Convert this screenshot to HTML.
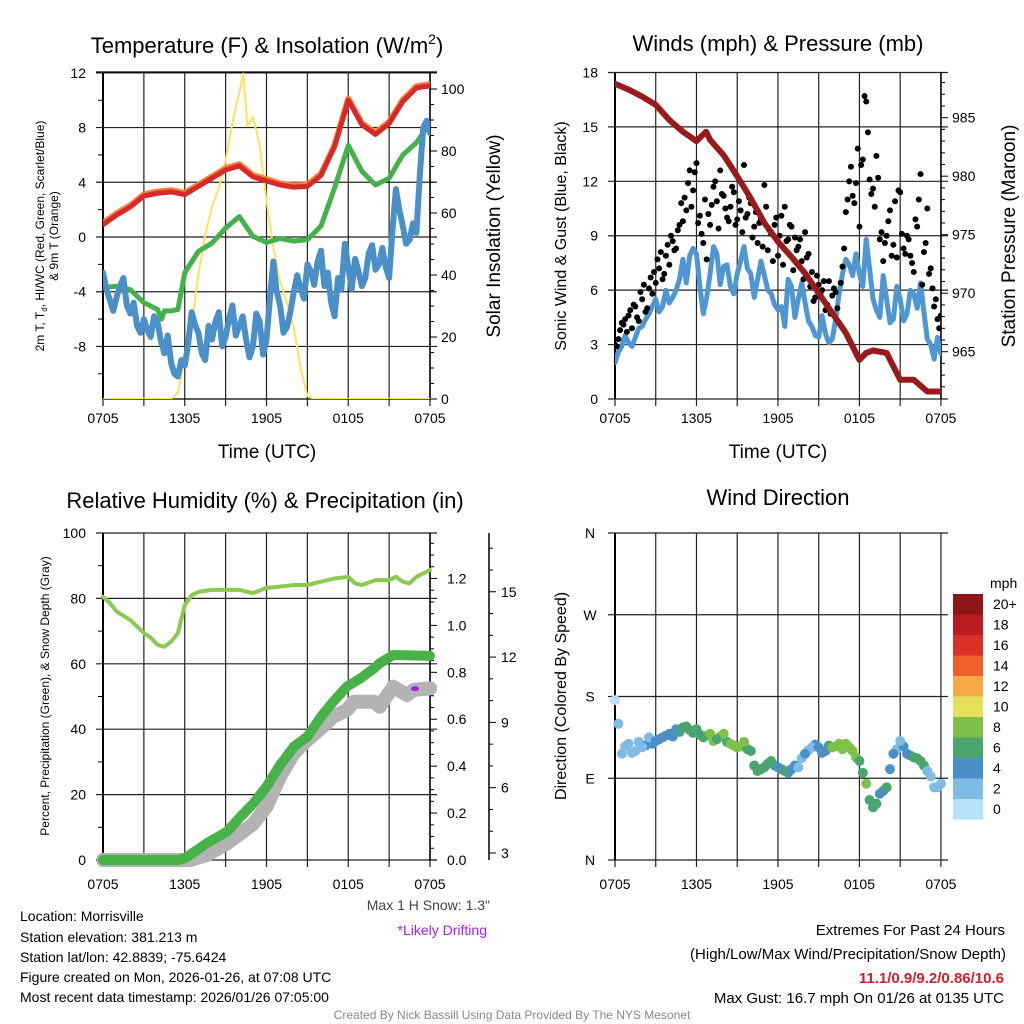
<!DOCTYPE html>
<html><head><meta charset="utf-8">
<style>
html,body{margin:0;padding:0;background:#fff;}
svg{display:block;font-family:"Liberation Sans",sans-serif;}
</style></head>
<body>
<svg id="fig" width="1024" height="1024" viewBox="0 0 1024 1024" xmlns="http://www.w3.org/2000/svg">
<defs>
<clipPath id="c1"><rect x="103" y="72" width="327" height="327"/></clipPath>
<clipPath id="c2"><rect x="615" y="72" width="326" height="327"/></clipPath>
<clipPath id="c3"><rect x="97" y="533" width="345" height="335"/></clipPath>
<clipPath id="c4"><rect x="606" y="525" width="345" height="345"/></clipPath>
</defs>
<text x="267" y="53" font-size="22" text-anchor="middle">Temperature (F) &amp; Insolation (W/m<tspan font-size="14" dy="-9">2</tspan><tspan dy="9">)</tspan></text>
<text x="778" y="51" font-size="22" text-anchor="middle">Winds (mph) &amp; Pressure (mb)</text>
<text x="265" y="508" font-size="22" text-anchor="middle">Relative Humidity (%) &amp; Precipitation (in)</text>
<text x="778" y="505" font-size="22" text-anchor="middle">Wind Direction</text>

<text x="267" y="458" font-size="19" text-anchor="middle">Time (UTC)</text>
<text x="778" y="458" font-size="19" text-anchor="middle">Time (UTC)</text>

<text transform="translate(44,236) rotate(-90)" font-size="12" text-anchor="middle">2m T, T<tspan font-size="8" dy="3">d</tspan><tspan dy="-3">, HI/WC (Red, Green, Scarlet/Blue)</tspan></text>
<text transform="translate(58,236) rotate(-90)" font-size="12" text-anchor="middle">&amp; 9m T (Orange)</text>
<text transform="translate(500,236) rotate(-90)" font-size="19" text-anchor="middle">Solar Insolation (Yellow)</text>
<text transform="translate(566,236) rotate(-90)" font-size="16" text-anchor="middle">Sonic Wind &amp; Gust (Blue, Black)</text>
<text transform="translate(1015,236) rotate(-90)" font-size="19" text-anchor="middle">Station Pressure (Maroon)</text>
<text transform="translate(49,696) rotate(-90)" font-size="12" text-anchor="middle">Percent, Precipitation (Green), &amp; Snow Depth (Gray)</text>
<text transform="translate(566,696) rotate(-90)" font-size="16" text-anchor="middle">Direction (Colored By Speed)</text>

<g id="g1"></g>
<g id="g2"></g>
<g id="g3"></g>
<g id="g4"></g>

<text x="490" y="910" font-size="14" fill="#444" text-anchor="end">Max 1 H Snow: 1.3"</text>
<text x="487" y="935" font-size="14" fill="#a020f0" text-anchor="end">*Likely Drifting</text>
<g font-size="14">
<text x="20" y="921">Location: Morrisville</text>
<text x="20" y="942">Station elevation: 381.213 m</text>
<text x="20" y="962">Station lat/lon: 42.8839; -75.6424</text>
<text x="20" y="982">Figure created on Mon, 2026-01-26, at 07:08 UTC</text>
<text x="20" y="1002">Most recent data timestamp: 2026/01/26 07:05:00</text>
</g>
<g font-size="15" text-anchor="end">
<text x="1005" y="935">Extremes For Past 24 Hours</text>
<text x="1006" y="959">(High/Low/Max Wind/Precipitation/Snow Depth)</text>
<text x="1004" y="983" fill="#d0202a" font-weight="bold">11.1/0.9/9.2/0.86/10.6</text>
<text x="1004" y="1003">Max Gust: 16.7 mph On 01/26 at 0135 UTC</text>
</g>
<text x="512" y="1019" font-size="12" fill="#888" text-anchor="middle">Created By Nick Bassill Using Data Provided By The NYS Mesonet</text>
</svg>
<script>
// ---------- data ----------
const xLabels = ["0705","1305","1905","0105","0705"];
const tempTicks = [12,8,4,0,-4,-8];
const solarTicks = [0,20,40,60,80,100];
const redT = [0.9,1.6,2.2,3.0,3.2,3.3,3.1,3.7,4.3,4.9,5.2,4.4,4.1,3.8,3.65,3.7,4.5,6.6,10.0,8.2,7.5,8.3,9.9,10.9,11.05];
const greenTimes = [0,1,2,3,4,4.3,4.5,5,5.5,6,7,8,9,10,11,12,13,14,15,16,17,18,19,20,21,22,23,24];
const greenTd = [-3.7,-3.6,-3.85,-4.8,-5.3,-6.0,-5.4,-5.4,-5.3,-2.6,-1.05,-0.45,0.65,1.5,0.05,-0.4,-0.1,-0.3,-0.2,0.8,3.6,6.7,4.8,3.8,4.3,6.0,6.9,8.3];
const blueWC = [-2.6,-4.6,-4.4,-3.0,-5.6,-6.5,-6.0,-7.3,-6.2,-8.5,-9.2,-10.2,-9.4,-5.5,-7.0,-9.0,-7.5,-5.5,-7.3,-5.0,-6.5,-7.5,-8.0,-6.2,-7.5,-1.8,-5.0,-6.6,-4.0,-3.8,-2.0,-3.5,-1.0,-2.6,-5.8,-3.8,-2.2,-1.6,-3.6,-1.2,-2.4,-0.8,-3.0,3.5,0.8,-0.2,0.3,8.0,7.6];
const blueWCq = [-3.8,-5.4,-3.6,-5.0,-4.8,-7.0,-6.8,-5.8,-7.6,-7.2,-10.0,-9.0,-7.8,-6.4,-8.5,-6.5,-6.2,-8.0,-6.0,-7.2,-5.8,-8.8,-5.6,-8.6,-4.5,-4.0,-7.0,-5.5,-2.8,-4.5,-2.5,-1.8,-3.6,-4.8,-3.0,-0.5,-3.8,-2.5,-3.0,-0.6,-2.0,-2.2,0.5,2.0,-0.5,1.0,4.5,8.5];
const solarTimes = [0,5,5.5,6,6.5,7,7.5,8,8.5,9,9.5,10,10.3,10.6,11,11.5,12,12.5,13,13.5,14,14.5,15,15.5,24];
const solarVals = [0,0,2,14,24,40,53,62,68,77,89,99,105,88,91,82,64,49,38,31,23,10,1,0,0];

const windTicks = [0,3,6,9,12,15,18];
const presTicks = [965,970,975,980,985];
const sonicWind = [2.0,2.9,3.1,3.4,4.0,4.7,5.5,5.1,5.3,6.0,7.7,7.9,8.0,4.7,6.9,8.0,7.3,6.2,6.9,8.4,6.9,6.6,6.8,5.8,4.9,4.0,6.2,5.5,5.3,4.0,3.4,3.6,3.3,5.8,7.7,6.8,6.9,8.8,5.5,4.5,5.5,4.4,5.5,4.7,5.8,6.4,3.3,2.2,2.5];
const sonicWindq = [2.6,3.5,2.9,3.9,4.4,5.1,4.8,6.0,5.6,6.6,6.4,8.3,6.2,5.6,8.4,6.3,7.4,5.8,7.6,7.2,5.6,7.6,6.0,5.2,5.1,6.6,4.5,6.4,4.3,3.5,4.6,3.1,4.4,6.9,7.4,8.0,6.2,7.2,4.9,6.8,4.2,6.2,4.3,6.0,5.0,4.8,3.0,3.4];
const gustA = [3.0,3.3,4.2,4.4,4.6,3.9,5.1,4.3,5.5,4.8,6.1,5.8,6.4,7.2,6.6,7.9,7.4,8.7,8.3,9.6,9.8,10.4,12.6,11.5,13.0,10.1,8.6,7.7,9.6,11.7,10.9,12.6,11.2,10.0,10.6,11.4,9.9,10.4,12.9,10.2,10.8,9.5,8.6,9.9,11.8,8.2,9.1,9.6,7.9,10.1,10.6,8.8,9.5,8.9,8.4,7.6,9.2,8.0,7.0,5.6,6.3,6.0,4.9,6.5,5.7,5.9,4.2,7.3,10.3,12.0,11.2,11.9,9.5,13.2,16.4,12.1,11.6,13.4,8.8,7.6,9.0,10.4,8.5,7.8,11.4,8.3,9.0,7.9,7.0,9.5,12.4,8.1,10.5,7.2,5.1,4.4,4.6];
const gustB = [2.9,3.8,4.1,3.7,4.9,5.2,4.5,5.9,6.3,5.0,6.7,7.0,7.7,8.1,6.9,8.5,9.0,8.2,9.3,10.8,11.1,11.9,10.6,12.5,9.7,9.1,11.0,10.2,10.7,12.0,9.4,11.3,10.5,9.8,11.7,9.6,10.9,9.2,10.0,11.1,8.9,10.3,9.7,8.4,10.6,9.3,7.6,10.0,9.0,7.4,8.7,9.6,7.1,8.2,8.8,6.6,7.8,6.2,5.4,6.8,5.8,6.5,5.2,4.7,6.1,5.0,6.4,8.3,11.0,12.8,10.8,13.8,12.9,16.7,14.7,11.3,10.6,12.2,9.2,8.6,9.8,7.9,10.9,11.5,9.1,8.0,8.8,7.5,9.9,11.0,6.3,8.6,6.9,6.1,5.5,3.9];
const presTimes = [0,1,2,3,4,5,6,6.7,7,8,9,10,11,12,13,14,15,16,17,18,18.5,19,20,21,22,23,24];
const presVals = [987.9,987.4,986.8,986.1,984.8,983.8,983.0,983.8,983.1,981.8,980.0,978.1,976.0,974.4,973.1,971.7,970.0,968.3,966.6,964.3,964.9,965.1,964.9,962.6,962.6,961.6,961.6];

const rhTicks = [0,20,40,60,80,100];
const precipTicks = ["0.0","0.2","0.4","0.6","0.8","1.0","1.2"];
const snowTicks = [3,6,9,12,15];
const rhTimes = [0,0.5,1,2,3,3.5,4,4.5,5,5.5,6,6.5,7,8,9,10,11,12,13,14,15,16,17,18,18.5,19,20,21,21.5,22,22.5,23,24];
const rhVals = [80.5,78.6,76,73.4,69.4,68,65.8,65.2,66.8,69.4,78,81,82,82.6,82.6,82.6,81.6,83.2,83.6,84.1,84.1,85.1,86.1,86.6,84.6,84.1,85.6,85.6,86.6,85.1,84.6,86.6,88.7];
const precipTimes = [0,5.5,6.0,7.6,9.1,10.1,11.05,12,13,14,15,16,16.9,17.9,18.9,19.9,20.3,21.3,24];
const precipVals = [0,0,0.007,0.071,0.121,0.185,0.242,0.313,0.405,0.483,0.526,0.611,0.675,0.739,0.774,0.817,0.838,0.874,0.87];
const snowTimes = [0,6.4,7.6,9.1,10.1,11.05,12,13,14,15,16,16.9,17.9,18.4,19.9,20.3,21.3,22.3,22.8,24];
const snowVals = [2.68,2.68,2.91,3.44,3.90,4.36,5.13,6.51,7.58,8.19,8.73,9.26,9.57,9.95,9.95,9.72,10.64,10.26,10.49,10.56];
const driftTime = [22.9];
const driftSnow = [10.55];

const dirLabels = ["N","W","S","E","N"];
const dirTicks = [360,270,180,90,0];
const windDir = [176,117,128,120,124,135,131,135,139,144,146,143,144,135,139,133,139,128,124,130,120,98,102,109,102,98,100,102,117,124,124,120,124,128,128,120,109,84,58,73,80,117,131,117,113,109,98,80,84];
const windSpd = [1.5,3,3,2.5,3,3.5,4.5,5,5,4.5,6,6.5,6,7,8.5,7,8.5,8,9,8.5,7,6.5,7.5,6.5,5.5,6,4.5,3.5,4,3,4.5,5,8.5,9,8.5,8.5,7,8.5,7,5,6.5,4.5,3,4.5,6.5,7,3,2.5,3];
const windDir2 = [150,125,118,130,126,128,133,137,136,141,147,140,138,137,131,136,130,126,125,122,104,100,106,104,100,96,104,112,121,127,118,126,125,122,124,113,96,66,62,76,100,122,125,115,112,104,92,80];
const windSpd2 = [2.5,3,3.5,3,4,4,5,6,5.5,6,7,6.5,7,8.5,8,8,7.5,8,8,7,6.5,6,7,6,5,5,4,3,3.5,4,4.5,7,9,8.5,8.5,8,7.5,7,6,5,5,3,4,6.5,7,6,2.5,2.5];
const cbLabels = ["20+","18","16","14","12","10","8","6","4","2","0"];
const cbColors = ["#8e1518","#bb1c22","#db3026","#ee5f2a","#f6a945","#e6df5a","#7dc14a","#49a56d","#4a8fc6","#7fbbe5","#b5e2f7"];

// ---------- helpers ----------
const NS="http://www.w3.org/2000/svg";
function mk(parent,tag,attrs,txt){const e=document.createElementNS(NS,tag);for(const k in attrs)e.setAttribute(k,attrs[k]);if(txt!==undefined)e.textContent=txt;parent.appendChild(e);return e;}
function pathD(ts,vs,fx,fy){return ts.map((t,i)=>(i?"L":"M")+fx(t).toFixed(1)+","+fy(vs[i]).toFixed(1)).join(" ");}
const half=(arr)=>arr.map((_,i)=>i*0.5);
const hourly=(arr)=>arr.map((_,i)=>i);
function merge(a,q){const ts=[],vs=[];a.forEach((v,i)=>{ts.push(i*0.5);vs.push(v);if(i<q.length){ts.push(i*0.5+0.25);vs.push(q[i]);}});return [ts,vs];}

const x1=t=>103+t*13.625, yT=v=>237-v*13.68, yS=s=>399-s*3.1;
const x2=t=>615+t*13.58, yW=w=>399-w*18.14, yP=p=>351.7-(p-965)*11.7;
const x3=t=>103+t*13.625, yR=r=>860-r*3.27, yPr=p=>860-p*234.6, ySn=s=>853-(s-3)*21.77;
const yD=d=>860-d*0.9083;

function grid(g,x0,x1_,y0,y1,xs,ys){
  xs.forEach(x=>{const l=mk(g,"line",{x1:x,x2:x,y1:y0,y2:y1+7,stroke:"#222","stroke-width":1.2});
    
    });
  ys.forEach(y=>{const l=mk(g,"line",{x1:x0-7,x2:x1_+7,y1:y,y2:y,stroke:"#222","stroke-width":1.2});
    
    });
}
function xlabels(g,fx,y){
  xLabels.forEach((s,i)=>{const e=mk(g,"text",{x:fx(i*6),y:y,"font-size":14,"text-anchor":"middle"},s);
    
    });
}
function line(g,d,stroke,w,clip,name){const e=mk(g,"path",{d:d,fill:"none",stroke:stroke,"stroke-width":w,"stroke-linejoin":"round","stroke-linecap":"round","clip-path":clip});
  
  return e;}

// ---------- panel 1 ----------
(function(){
const g=document.getElementById("g1");
const xs=[0,3,6,9,12,15,18,21,24].map(x1);
grid(g,103,430,72,399,xs,tempTicks.map(yT));
mk(g,"line",{x1:96,x2:437,y1:72,y2:72,stroke:"#000","stroke-width":1.2});
mk(g,"line",{x1:103,x2:103,y1:72,y2:399,stroke:"#000","stroke-width":2});
mk(g,"line",{x1:430,x2:430,y1:72,y2:399,stroke:"#000","stroke-width":1.5});
mk(g,"line",{x1:103,x2:430,y1:399,y2:399,stroke:"#000","stroke-width":1.2});
tempTicks.forEach(v=>{const e=mk(g,"text",{x:86,y:yT(v)+5,"font-size":14,"text-anchor":"end"},v);
  
  });
for(let v=-10;v<=10;v+=4)mk(g,"line",{x1:98,x2:103,y1:yT(v),y2:yT(v),stroke:"#000"});
solarTicks.forEach(v=>{mk(g,"line",{x1:430,x2:437,y1:yS(v),y2:yS(v),stroke:"#000"});
  const e=mk(g,"text",{x:441,y:yS(v)+5,"font-size":14},v);
  
  });
for(let v=5;v<=100;v+=5)if(v%20)mk(g,"line",{x1:430,x2:434,y1:yS(v),y2:yS(v),stroke:"#000"});
xlabels(g,x1,423);
line(g,pathD(solarTimes,solarVals,x1,yS),"#fde35a",2,"url(#c1)","solar-insolation-line");
line(g,pathD(hourly(redT),redT.map(v=>v+0.12),x1,yT),"#f0823a",6,"url(#c1)","9m-temp-line");
line(g,pathD(hourly(redT),redT,x1,yT),"#d7282a",5,"url(#c1)","2m-temp-line");
line(g,pathD(greenTimes,greenTd,x1,yT),"#44b248",5,"url(#c1)","dewpoint-line");
const bw=merge(blueWC,blueWCq);
line(g,pathD(bw[0],bw[1],x1,yT),"#4a8fc8",6,"url(#c1)","wind-chill-line");
})();

// ---------- panel 2 ----------
(function(){
const g=document.getElementById("g2");
const xs=[0,3,6,9,12,15,18,21,24].map(x2);
grid(g,615,941,72,399,xs,windTicks.map(yW));
mk(g,"line",{x1:615,x2:615,y1:72,y2:399,stroke:"#000","stroke-width":2});
mk(g,"line",{x1:941,x2:941,y1:72,y2:399,stroke:"#000","stroke-width":1.5});
windTicks.forEach(v=>{const e=mk(g,"text",{x:598,y:yW(v)+5,"font-size":14,"text-anchor":"end"},v);
  
  });
presTicks.forEach(v=>{mk(g,"line",{x1:941,x2:948,y1:yP(v),y2:yP(v),stroke:"#000"});
  const e=mk(g,"text",{x:952,y:yP(v)+5,"font-size":14},v);
  
  });
for(let v=962;v<=988;v++)if(v%5)mk(g,"line",{x1:941,x2:945,y1:yP(v),y2:yP(v),stroke:"#000"});
xlabels(g,x2,423);
const sw=merge(sonicWind,sonicWindq);
line(g,pathD(sw[0],sw[1],x2,yW),"#4f97d2",5,"url(#c2)","sonic-wind-line");
const gg=mk(g,"g",{"clip-path":"url(#c2)"});


gustA.forEach((v,i)=>{const c=mk(gg,"circle",{cx:x2(i*0.25),cy:yW(v),r:3,fill:"#000"});
  
  });
gustB.forEach((v,i)=>{const c=mk(gg,"circle",{cx:x2(0.125+i*0.25),cy:yW(v),r:3,fill:"#000"});
  
  });
line(g,pathD(presTimes,presVals,x2,yP),"#981a1a",6,"url(#c2)","pressure-line");
})();

// ---------- panel 3 ----------
(function(){
const g=document.getElementById("g3");
const xs=[0,3,6,9,12,15,18,21,24].map(x3);
grid(g,103,430,533,860,xs,rhTicks.map(yR));
mk(g,"line",{x1:103,x2:103,y1:533,y2:860,stroke:"#000","stroke-width":2});
mk(g,"line",{x1:430,x2:430,y1:533,y2:860,stroke:"#000","stroke-width":1.5});
rhTicks.forEach(v=>{const e=mk(g,"text",{x:86,y:yR(v)+5,"font-size":14,"text-anchor":"end"},v);
  
  });
for(let v=10;v<=90;v+=20)mk(g,"line",{x1:98,x2:103,y1:yR(v),y2:yR(v),stroke:"#000"});
precipTicks.forEach(v=>{mk(g,"line",{x1:430,x2:437,y1:yPr(+v),y2:yPr(+v),stroke:"#000"});
  const e=mk(g,"text",{x:447,y:yPr(+v)+5,"font-size":14},v);
  
  });
for(let k=1;k<28;k++){if(k%4)mk(g,"line",{x1:430,x2:434,y1:yPr(k*0.05),y2:yPr(k*0.05),stroke:"#000"});}
mk(g,"line",{x1:489,x2:489,y1:533,y2:860,stroke:"#000","stroke-width":1.5});
snowTicks.forEach(v=>{mk(g,"line",{x1:489,x2:496,y1:ySn(v),y2:ySn(v),stroke:"#000"});
  const e=mk(g,"text",{x:501,y:ySn(v)+5,"font-size":14},v);
  
  });
for(let v=3;v<=17;v++)if(v%3)mk(g,"line",{x1:489,x2:493,y1:ySn(v),y2:ySn(v),stroke:"#000"});
xlabels(g,x3,889);
line(g,pathD(snowTimes,snowVals,x3,ySn),"#b3b3b3",14,"url(#c3)","snow-depth-line");
line(g,pathD(precipTimes,precipVals,x3,yPr),"#46b248",10,"url(#c3)","precip-line");
line(g,pathD(rhTimes,rhVals,x3,yR),"#8bc94f",4,"url(#c3)","rh-line");
driftTime.forEach((t,i)=>{const e=mk(g,"ellipse",{cx:x3(t),cy:ySn(driftSnow[i]),rx:4,ry:2.5,fill:"#a020f0"});
  
  });
})();

// ---------- panel 4 ----------
(function(){
const g=document.getElementById("g4");
const xs=[0,3,6,9,12,15,18,21,24].map(x2);
grid(g,615,941,533,860,xs,dirTicks.map(yD));
mk(g,"line",{x1:615,x2:615,y1:533,y2:860,stroke:"#000","stroke-width":2});
dirTicks.forEach((d,i)=>{const e=mk(g,"text",{x:590,y:yD(d)+5,"font-size":14,"text-anchor":"middle"},dirLabels[i]);
  
  });
xlabels(g,x2,889);
windDir2.forEach((d,i)=>{const bin=Math.min(10,Math.floor(windSpd2[i]/2));
  const c=mk(g,"circle",{cx:x2(0.25+i*0.5),cy:yD(d),r:5,fill:cbColors[10-bin],"clip-path":"url(#c4)"});
  
  });
windDir.forEach((d,i)=>{const bin=Math.min(10,Math.floor(windSpd[i]/2));
  const c=mk(g,"circle",{cx:x2(i*0.5),cy:yD(d),r:5,fill:cbColors[10-bin],"clip-path":"url(#c4)"});
  
  });
const cb=mk(g,"g",{});


mk(cb,"text",{x:990,y:588,"font-size":14},"mph");
cbColors.forEach((c,i)=>{mk(cb,"rect",{x:953,y:594+i*20.5,width:30,height:20.6,fill:c});
  const e=mk(cb,"text",{x:993,y:594+i*20.5+15,"font-size":14},cbLabels[i]);
  
  });
})();
</script>
</body></html>
